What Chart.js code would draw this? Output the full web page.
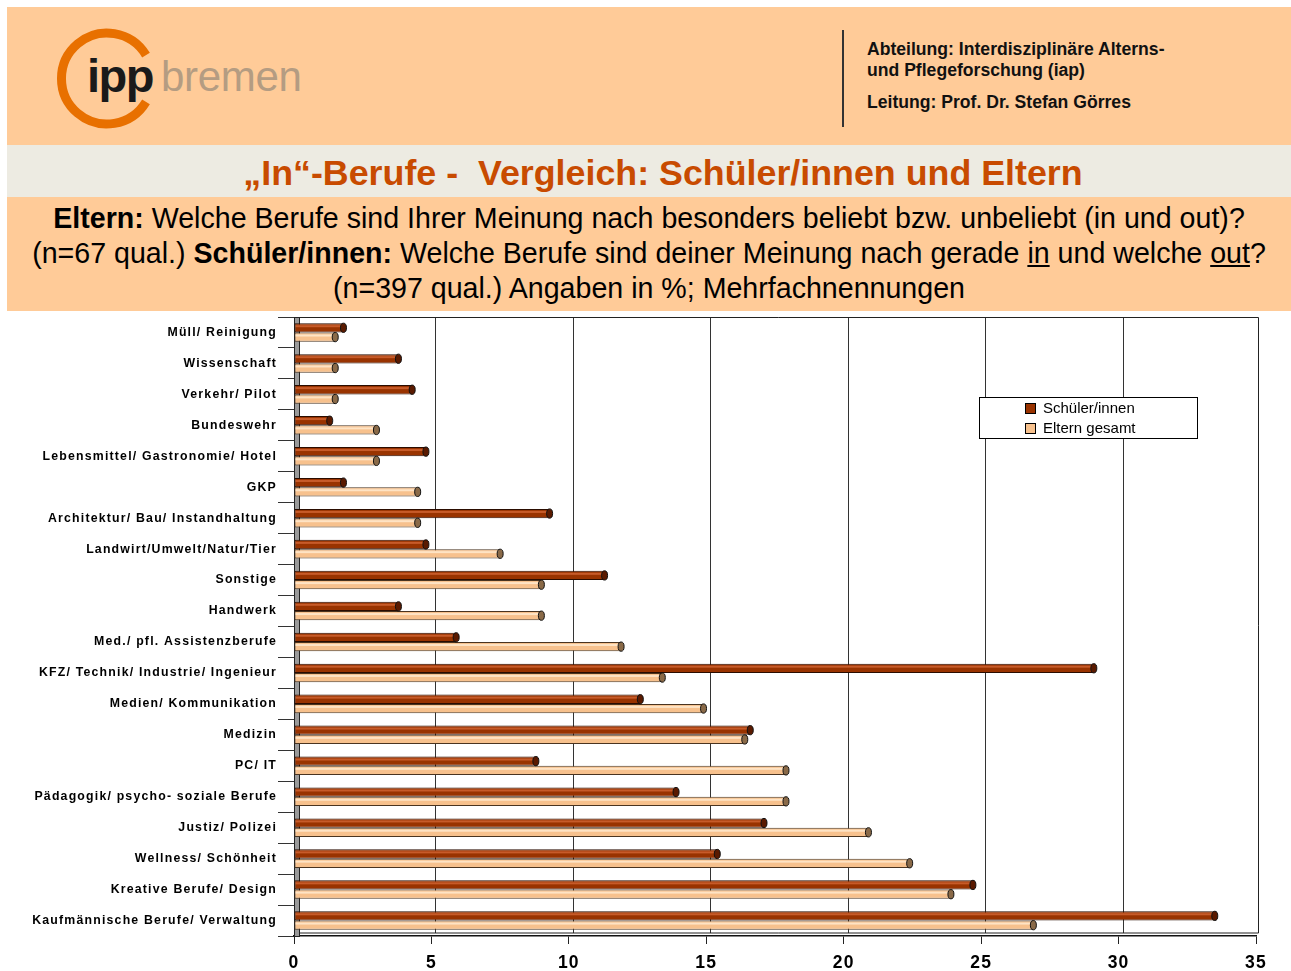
<!DOCTYPE html>
<html><head><meta charset="utf-8">
<script src="https://cdn.jsdelivr.net/npm/chart.js@4"></script>
<style>
html,body{margin:0;padding:0;background:#fff;width:1291px;height:971px;overflow:hidden;font-family:Arial,"Liberation Sans",sans-serif;}
.band{position:absolute;left:7px;width:1284px;}
#hdr{top:7px;height:138px;background:#FFCB98;}
#ttl{top:145px;height:52px;background:#EDEBE2;text-align:center;color:#C84B00;font-weight:bold;font-size:35.8px;line-height:56px;white-space:pre;padding-left:28px;box-sizing:border-box;}
#sub{top:197px;height:114px;background:#FFCB98;text-align:center;color:#000;font-size:28.6px;line-height:35px;padding-top:4px;box-sizing:border-box;}
#vline{position:absolute;left:842px;top:30px;width:1.5px;height:97px;background:#333;}
#info{position:absolute;left:867px;top:39px;font-weight:bold;font-size:17.6px;color:#111;line-height:21px;}
#cv{position:absolute;left:0;top:311px;}
</style></head>
<body>
<div id="hdr" class="band"></div>
<svg style="position:absolute;left:0;top:0" width="420" height="145">
  <path d="M146,101.9 A45.5,45.5 0 1 1 146,55.1" fill="none" stroke="#E87000" stroke-width="9"/>
  <text x="87" y="92" font-family="Arial, Liberation Sans" font-weight="bold" font-size="47" letter-spacing="-1.5" fill="#1a1a1a">ipp</text>
  <text x="161" y="91" font-family="Arial, Liberation Sans" font-size="42" letter-spacing="-0.3" fill="#B49C82">bremen</text>
</svg>
<div id="vline"></div>
<div id="info">Abteilung: Interdisziplinäre Alterns-<br>und Pflegeforschung (iap)<div style="height:11px"></div>Leitung: Prof. Dr. Stefan Görres</div>
<div id="ttl" class="band">„In“-Berufe -  Vergleich: Schüler/innen und Eltern</div>
<div id="sub" class="band"><b>Eltern:</b> Welche Berufe sind Ihrer Meinung nach besonders beliebt bzw. unbeliebt (in und out)?<br>(n=67 qual.) <b>Schüler/innen:</b> Welche Berufe sind deiner Meinung nach gerade <u>in</u> und welche <u>out</u>?<br>(n=397 qual.) Angaben in %; Mehrfachnennungen</div>
<canvas id="cv" width="1291" height="660"></canvas>
<script>
const categories = [
  "Müll/ Reinigung","Wissenschaft","Verkehr/ Pilot","Bundeswehr",
  "Lebensmittel/ Gastronomie/ Hotel","GKP","Architektur/ Bau/ Instandhaltung",
  "Landwirt/Umwelt/Natur/Tier","Sonstige","Handwerk","Med./ pfl. Assistenzberufe",
  "KFZ/ Technik/ Industrie/ Ingenieur","Medien/ Kommunikation","Medizin","PC/ IT",
  "Pädagogik/ psycho- soziale Berufe","Justiz/ Polizei","Wellness/ Schönheit",
  "Kreative Berufe/ Design","Kaufmännische Berufe/ Verwaltung"
];
const schueler = [1.8,3.8,4.3,1.3,4.8,1.8,9.3,4.8,11.3,3.8,5.9,29.1,12.6,16.6,8.8,13.9,17.1,15.4,24.7,33.5];
const eltern   = [1.5,1.5,1.5,3.0,3.0,4.5,4.5,7.5,9.0,9.0,11.9,13.4,14.9,16.4,17.9,17.9,20.9,22.4,23.9,26.9];
const seriesNames = ["Schüler/innen","Eltern gesamt"];
const xMin = 0, xMax = 35, xStep = 5;

const FONT = 'Arial, "Liberation Sans", sans-serif';

const capPlugin = {
  id:'caps',
  beforeDraw(chart){ chart.ctx.letterSpacing = '1.2px'; },
  beforeDatasetsDraw(chart){
    const {ctx, chartArea:a} = chart;
    const xs = chart.scales.x;
    ctx.save();
    ctx.strokeStyle = '#333'; ctx.lineWidth = 1;
    for (let v = xMin + xStep; v < xMax; v += xStep) {
      const px = Math.round(xs.getPixelForValue(v)) + 4.5;
      ctx.beginPath(); ctx.moveTo(px, a.top); ctx.lineTo(px, a.bottom - 3); ctx.stroke();
    }
    ctx.fillStyle = '#9a9a9a';
    ctx.fillRect(a.left, a.top, 5, a.bottom - a.top);
    ctx.strokeStyle = '#222'; ctx.lineWidth = 1;
    ctx.strokeRect(a.left+0.5, a.top+0.5, 5, a.bottom - a.top);
    ctx.beginPath();
    ctx.moveTo(a.left+5, a.top+0.5); ctx.lineTo(a.right+2.5, a.top+0.5); ctx.lineTo(a.right+2.5, a.bottom-3);
    ctx.lineTo(a.left+5, a.bottom-3);
    ctx.strokeStyle = '#222'; ctx.stroke();
    ctx.restore();
  },
  afterDatasetsDraw(chart){
    const ctx = chart.ctx;
    const caps = ['#5a1a00','#8a6a48'];
    const hi = ['rgba(255,140,90,0.45)','rgba(255,235,210,0.8)'];
    chart.data.datasets.forEach((ds, di) => {
      chart.getDatasetMeta(di).data.forEach(el => {
        const h = el.height, y = el.y, x0 = el.base, x1 = el.x;
        ctx.save();
        ctx.fillStyle = hi[di];
        ctx.fillRect(x0+1, y - h/2 + 2, x1 - x0 - 2, Math.max(1.5, h*0.22));
        ctx.beginPath();
        ctx.ellipse(x1, y, 3, h/2, 0, 0, Math.PI*2);
        ctx.fillStyle = caps[di]; ctx.fill();
        ctx.strokeStyle = '#111'; ctx.lineWidth = 1; ctx.stroke();
        ctx.restore();
      });
    });
  },
  afterDraw(chart){
    const ctx = chart.ctx;
    ctx.save();
    ctx.letterSpacing = '0px';
    const bx = 979, by = 397 - 311, bw = 218, bh = 41;
    ctx.fillStyle = '#fff'; ctx.fillRect(bx, by, bw, bh);
    ctx.strokeStyle = '#000'; ctx.lineWidth = 1; ctx.strokeRect(bx+0.5, by+0.5, bw, bh);
    ctx.font = '15px ' + FONT; ctx.textBaseline = 'middle'; ctx.fillStyle = '#000';
    chart.data.datasets.forEach((ds, i) => {
      const yy = by + 11 + i*20;
      ctx.fillStyle = ds.backgroundColor; ctx.fillRect(1025, yy-5, 10, 10);
      ctx.strokeStyle = '#000'; ctx.strokeRect(1025.5, yy-4.5, 10, 10);
      ctx.fillStyle = '#000'; ctx.fillText(ds.label, 1043, yy+1);
    });
    ctx.restore();
  }
};

new Chart(document.getElementById('cv'), {
  type:'bar',
  data:{
    labels: categories,
    datasets:[
      {label:seriesNames[0], data:schueler, backgroundColor:'#993300', borderColor:'#2a0c00', borderWidth:1, borderSkipped:false},
      {label:seriesNames[1], data:eltern, backgroundColor:'#F7C18D', borderColor:'#4a3420', borderWidth:1, borderSkipped:false}
    ]
  },
  options:{
    indexAxis:'y', responsive:false, animation:false, devicePixelRatio:1,
    layout:{padding:{top:6,right:35,left:0,bottom:0}},
    plugins:{legend:{display:false}, tooltip:{enabled:false}},
    datasets:{bar:{categoryPercentage:0.6, barPercentage:1.0}},
    scales:{
      x:{
        min:xMin, max:xMax,
        ticks:{stepSize:xStep, color:'#000', font:{family:FONT, size:17.5, weight:'bold'}, padding:9},
        grid:{drawOnChartArea:false, drawTicks:true, tickLength:8, tickColor:'#222', tickWidth:1},
        border:{color:'#111', width:1.5},
        afterFit(s){ s.height = 35; }
      },
      y:{
        ticks:{color:'#000', font:{family:FONT, size:12.3, weight:'bold'}, padding:1},
        grid:{drawOnChartArea:false, drawTicks:true, tickLength:16, tickColor:'#333', tickWidth:1},
        border:{color:'#111', width:1},
        afterFit(s){ s.width = 294; s.paddingTop = 0; s.paddingBottom = 0; }
      }
    }
  },
  plugins:[capPlugin]
});
</script>
</body></html>
